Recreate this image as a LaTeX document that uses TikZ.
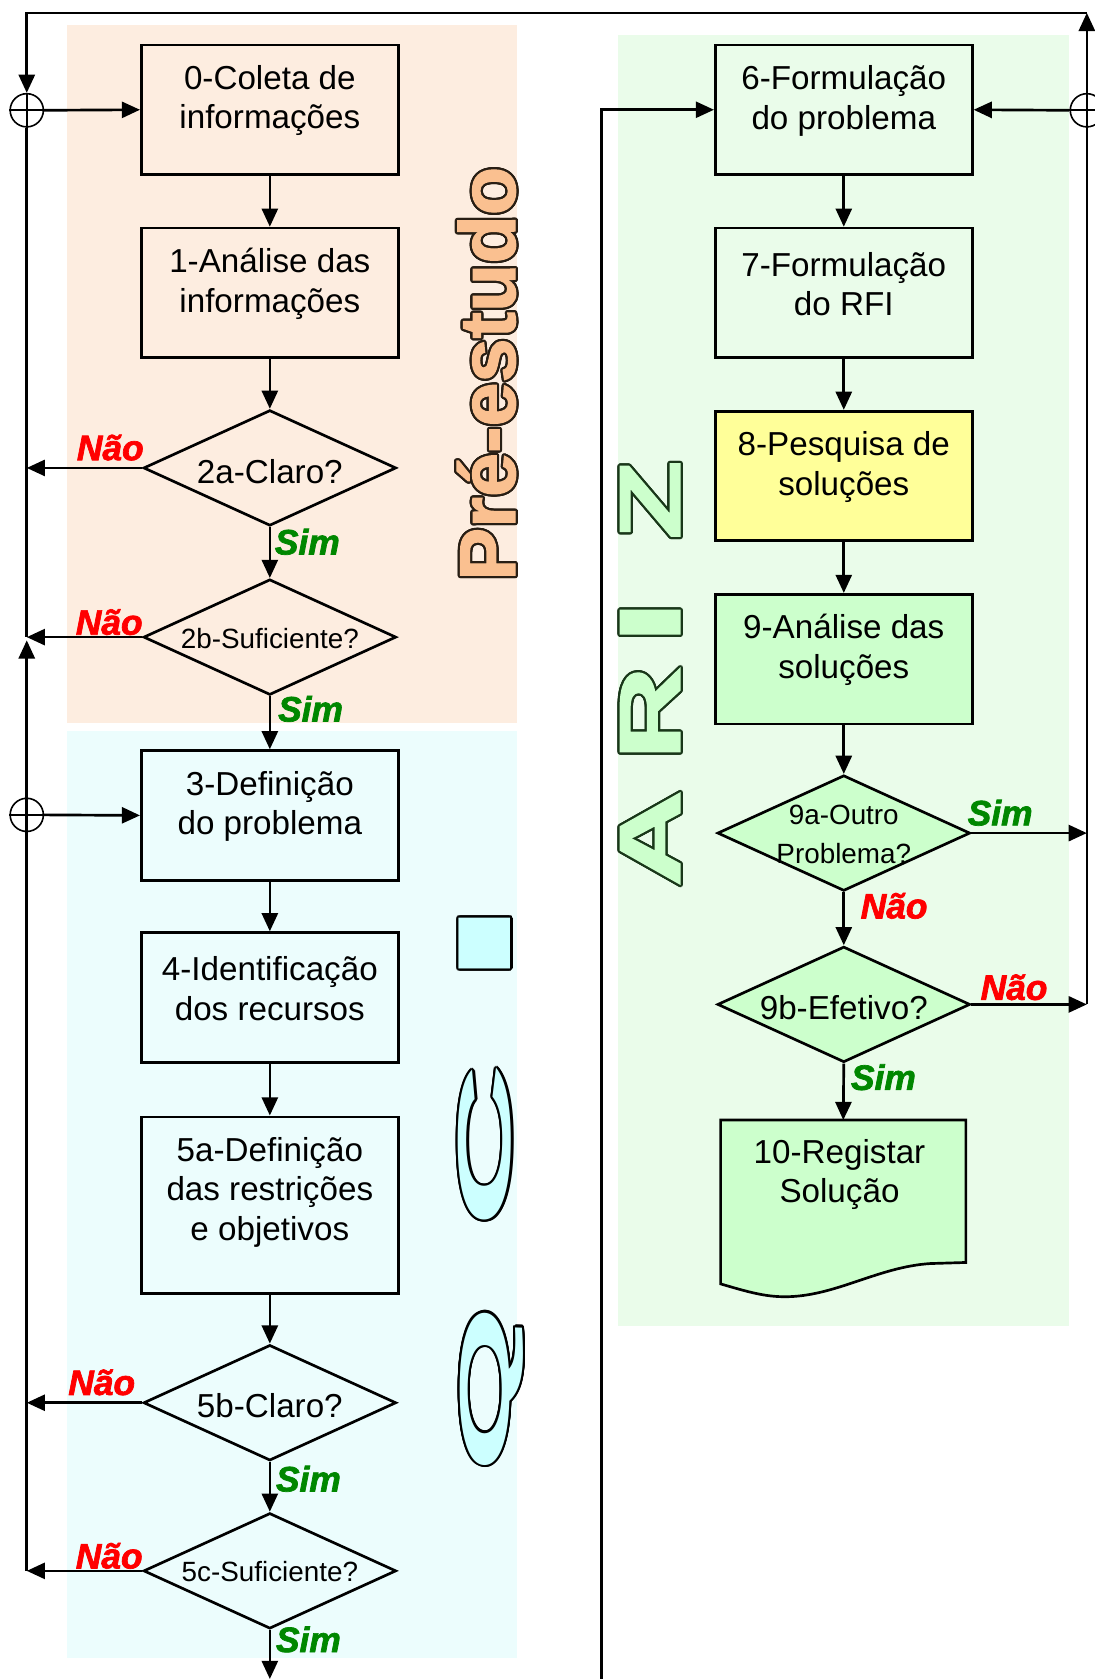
\documentclass[tikz,border=0pt]{standalone}
\usepackage{fontspec}
\setmainfont{Liberation Sans}
\newfontface\labelface[FakeBold=2]{Liberation Sans Bold Italic}
\newfontface\titleface[FakeBold=1.5]{Liberation Sans Bold}
\usetikzlibrary{arrows.meta,shapes.geometric}

\definecolor{peachbg}{RGB}{253,237,224}
\definecolor{cyanbg}{RGB}{236,253,253}
\definecolor{greenbg}{RGB}{234,252,234}
\definecolor{paleyellow}{RGB}{255,255,153}
\definecolor{palegreen}{RGB}{204,255,204}
\definecolor{palecyan}{RGB}{204,255,255}
\definecolor{peach}{RGB}{250,192,144}
\definecolor{yesgreen}{RGB}{0,135,0}
\definecolor{peachline}{RGB}{40,30,20}
\definecolor{arizline}{RGB}{25,55,25}

% word drawn as a filled letter with a dark rim, rotated to read upwards
\newcommand{\outlinedword}[6]{%
  \foreach \ang in {0,20,...,340}{%
    \node[rotate=90, anchor=base, inner sep=0pt, text=#5] (#1-\ang) at ([shift={(\ang:2.1)}]#2,#3) {#4};
  }%
  \node[rotate=90, anchor=base, inner sep=0pt, text=#6] (#1) at (#2,#3) {#4};
}

\begin{document}
\begin{tikzpicture}[x=1pt,y=-1pt,line width=2.5pt,
  flowbox/.style={draw, rectangle, minimum width=240pt, minimum height=121pt, inner sep=0pt},
  boxtext/.style={align=center, font=\fontsize{31}{37}\selectfont, inner sep=0pt},
  smalltext/.style={align=center, font=\fontsize{26}{36}\selectfont, inner sep=0pt},
  decision/.style={draw, shape=diamond, minimum width=236pt, minimum height=108pt, inner sep=0pt},
  arrowto/.style={-{Triangle[length=17pt,width=15pt]}},
  nolabel/.style={text=red, font=\fontsize{33}{33}\selectfont\labelface, inner sep=0pt},
  yeslabel/.style={text=yesgreen, font=\fontsize{33}{33}\selectfont\labelface, inner sep=0pt},
  junction/.style={draw, circle, minimum size=31pt, inner sep=0pt, line width=1.5pt},
]
\useasboundingbox (0,0) rectangle (1022,1568);

% shaded stage areas
\fill[peachbg] (63,23) rectangle (483,675);
\fill[cyanbg] (63,683) rectangle (483,1548);
\fill[greenbg] (577,33) rectangle (998,1238);

% stage titles
\outlinedword{pre}{481}{349}{\fontsize{74}{74}\selectfont\titleface Pré-estudo}{peachline}{peach}
\outlinedword{arz}{635}{467}{\fontsize{81}{81}\selectfont\titleface\scalebox{1.5}[1]{Z}}{arizline}{palegreen}
\outlinedword{ari}{635}{581}{\fontsize{81}{81}\selectfont\titleface\scalebox{1.8}[1]{I}}{arizline}{palegreen}
\outlinedword{arr}{635}{666}{\fontsize{81}{81}\selectfont\titleface\scalebox{1.5}[1]{R}}{arizline}{palegreen}
\outlinedword{ara}{635}{783}{\fontsize{81}{81}\selectfont\titleface\scalebox{1.55}[1]{A}}{arizline}{palegreen}
\outlinedword{qci}{477}{881}{\fontsize{70}{70}\selectfont\bfseries\scalebox{4.7}[1]{I}}{black}{palecyan}
\outlinedword{qcc}{477}{1070}{\fontsize{70}{70}\selectfont\bfseries\scalebox{3.1}[1]{C}}{black}{palecyan}
\outlinedword{qcq}{476}{1297}{\fontsize{66}{66}\selectfont\bfseries\scalebox{3.1}[1]{Q}}{black}{palecyan}

% left column
\node[flowbox] (b0) at (252,102.5) {};
\node[boxtext] (t0) at (252,94) {0-Coleta de\\informações};
\node[flowbox] (b1) at (252,273.5) {};
\node[boxtext] (t1) at (252,265) {1-Análise das\\informações};
\node[decision] (d2a) at (252,437) {};
\node[boxtext] (t2a) at (252,440) {2a-Claro?};
\node[decision] (d2b) at (252,595) {};
\node[smalltext] (t2b) at (252,596) {2b-Suficiente?};
\node[flowbox] (b3) at (252,761.5) {};
\node[boxtext] (t3) at (252,753) {3-Definição\\do problema};
\node[flowbox] (b4) at (252,931.5) {};
\node[boxtext] (t4) at (252,923) {4-Identificação\\dos recursos};
\node[flowbox, minimum height=165pt] (b5a) at (252,1125.5) {};
\node[boxtext] (t5a) at (252,1113.5) {5a-Definição\\das restrições\\e objetivos};
\node[decision] (d5b) at (252,1310) {};
\node[boxtext] (t5b) at (252,1313) {5b-Claro?};
\node[decision] (d5c) at (252,1467) {};
\node[smalltext] (t5c) at (252,1468) {5c-Suficiente?};

% right column
\node[flowbox] (b6) at (788,102.5) {};
\node[boxtext] (t6) at (788,94) {6-Formulação\\do problema};
\node[flowbox] (b7) at (788,273.5) {};
\node[boxtext] (t7) at (788,265.5) {7-Formulação\\do RFI};
\node[flowbox, fill=paleyellow] (b8) at (788,444.5) {};
\node[boxtext] (t8) at (788,436) {8-Pesquisa de\\soluções};
\node[flowbox, fill=palegreen] (b9) at (788,615.5) {};
\node[boxtext] (t9) at (788,607) {9-Análise das\\soluções};
\node[decision, fill=palegreen] (d9a) at (788,778) {};
\node[smalltext] (t9a) at (788,779) {9a-Outro\\Problema?};
\node[decision, fill=palegreen] (d9b) at (788,938) {};
\node[boxtext] (t9b) at (788,941) {9b-Efetivo?};

% record document with wavy lower edge
\draw[fill=palegreen] (673,1046) -- (902,1046) -- (902,1179) -- (869,1180)
  .. controls (820,1183) and (780,1211) .. (733,1211)
  .. controls (715,1211) and (700,1207) .. (673,1199) -- cycle;
\coordinate (c10top) at (787.5,1046);
\node[boxtext] (t10) at (784,1097) {10-Registar\\Solução};

% summing junctions and loose ends
\node[junction] (j0) at (25,103) {};
\node[junction] (j3) at (25,761) {};
\node[junction] (jR) at (1015,103) {};
\foreach \j in {j0,j3,jR}{
  \draw[line width=1.5pt] (\j.north) -- (\j.south) (\j.west) -- (\j.east);
}
\coordinate (cTL) at (25,12);
\coordinate (cTR) at (1015,12);
\coordinate (cLup) at (25,598);
\coordinate (cOut) at (252,1568);
\coordinate (cEntry) at (562,1570);

% main flow, left column
\draw[arrowto] (j0.east) -- (b0.west);
\draw[arrowto] (b0) -- (b1);
\draw[arrowto] (b1) -- (d2a);
\draw[arrowto] (d2a) -- (d2b);
\draw[arrowto] (d2b) -- (b3);
\draw[arrowto] (j3.east) -- (b3.west);
\draw[arrowto] (b3) -- (b4);
\draw[arrowto] (b4) -- (b5a);
\draw[arrowto] (b5a) -- (d5b);
\draw[arrowto] (d5b) -- (d5c);
\draw[arrowto] (d5c.south) -- (cOut);

% feedback on the left
\draw (j0.south) -- (d2b.west -| j0);
\draw[arrowto] (d2a.west) -- (d2a.west -| j0);
\draw[arrowto] (d2b.west) -- (d2b.west -| j0);
\draw[arrowto] (d5b.west) -- (d5b.west -| j3);
\draw[arrowto] (d5c.west) -- (d5c.west -| j3);
\draw[arrowto] (d5c.west -| j3) -- (cLup);

% main flow, right column
\draw[arrowto] (cEntry) |- (b6.west);
\draw[arrowto] (jR.west) -- (b6.east);
\draw[arrowto] (b6) -- (b7);
\draw[arrowto] (b7) -- (b8);
\draw[arrowto] (b8) -- (b9);
\draw[arrowto] (b9) -- (d9a);
\draw[arrowto] (d9a) -- (d9b);
\draw[arrowto] (d9b.south) -- (c10top);

% feedback on the right and over the top
\draw[arrowto] (d9a.east) -- (d9a.east -| jR);
\draw[arrowto] (d9b.east) -- (d9b.east -| jR);
\draw[arrowto] (d9b.east -| jR) -- (cTR);
\draw[arrowto] (cTR) -- (cTL) -- (j0.north);

% branch labels
\node[nolabel] (n2a) at (103,418) {Não};
\node[yeslabel] (s2a) at (287,506) {Sim};
\node[nolabel] (n2b) at (102,581) {Não};
\node[yeslabel] (s2b) at (290,662) {Sim};
\node[nolabel] (n5b) at (95,1291) {Não};
\node[yeslabel] (s5b) at (288,1381) {Sim};
\node[nolabel] (n5c) at (102,1453) {Não};
\node[yeslabel] (s5c) at (288,1531) {Sim};
\node[yeslabel] (s9a) at (934,759) {Sim};
\node[nolabel] (n9a) at (835,846) {Não};
\node[nolabel] (n9b) at (947,922) {Não};
\node[yeslabel] (s9b) at (825,1006) {Sim};
\end{tikzpicture}
\end{document}
